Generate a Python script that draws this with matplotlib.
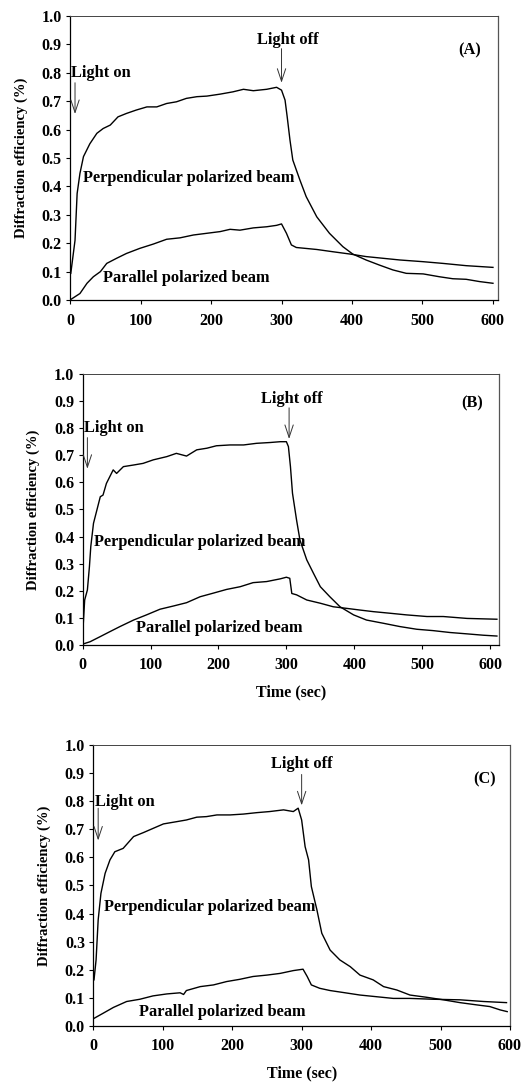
import matplotlib
matplotlib.use('Agg')
import matplotlib.pyplot as plt

plt.rcParams['font.family'] = 'Liberation Serif'
plt.rcParams['font.weight'] = 'bold'

# ---- Panel A ----
a_perp_t = [1, 7, 10, 14, 19, 28, 38, 47, 57, 68, 80, 94, 109, 123, 137, 151, 165, 180, 194,
            213, 231, 246, 260, 279, 293, 300, 305, 308, 312, 316, 326, 335, 350, 368, 387,
            401, 420, 439, 458, 477, 501, 524, 543, 562, 581, 600]
a_perp = [0.094, 0.21, 0.375, 0.446, 0.505, 0.55, 0.587, 0.604, 0.616, 0.645, 0.657, 0.669,
          0.68, 0.68, 0.692, 0.698, 0.71, 0.716, 0.718, 0.725, 0.733, 0.742, 0.737, 0.742,
          0.749, 0.739, 0.704, 0.646, 0.563, 0.493, 0.423, 0.364, 0.293, 0.235, 0.188, 0.162,
          0.141, 0.123, 0.106, 0.094, 0.092, 0.082, 0.075, 0.073, 0.065, 0.059]
a_par_t = [1, 14, 24, 33, 43, 52, 66, 80, 99, 118, 137, 156, 175, 194, 213, 227, 241, 260,
           279, 293, 300, 307, 314, 321, 350, 373, 397, 420, 444, 468, 501, 529, 562, 600]
a_par = [0.002, 0.023, 0.059, 0.082, 0.1, 0.129, 0.147, 0.164, 0.182, 0.197, 0.214, 0.219,
         0.229, 0.235, 0.241, 0.249, 0.246, 0.254, 0.258, 0.263, 0.268, 0.235, 0.194, 0.185,
         0.178, 0.17, 0.162, 0.153, 0.147, 0.141, 0.135, 0.129, 0.121, 0.115]

# ---- Panel B ----
b_perp_t = [1, 3, 7, 10, 12, 16, 21, 26, 30, 35, 45, 50, 60, 75, 89, 104, 124, 138, 153, 168,
            183, 197, 217, 237, 256, 276, 291, 300, 303, 306, 309, 315, 320, 330, 340, 350,
            364, 379, 399, 418, 443, 467, 492, 516, 541, 566, 590, 610]
b_perp = [0.08, 0.166, 0.203, 0.289, 0.363, 0.449, 0.498, 0.547, 0.553, 0.596, 0.646, 0.633,
          0.658, 0.664, 0.67, 0.683, 0.695, 0.707, 0.697, 0.72, 0.726, 0.735, 0.738, 0.738,
          0.744, 0.747, 0.75, 0.75, 0.732, 0.658, 0.56, 0.461, 0.387, 0.314, 0.264, 0.215,
          0.178, 0.141, 0.111, 0.092, 0.08, 0.068, 0.058, 0.053, 0.046, 0.041, 0.036, 0.033]
b_par_t = [1, 11, 26, 40, 55, 75, 94, 114, 134, 153, 173, 192, 212, 232, 251, 271, 291, 300,
           305, 308, 315, 330, 350, 369, 389, 408, 428, 453, 477, 507, 531, 566, 610]
b_par = [0.004, 0.012, 0.031, 0.049, 0.068, 0.092, 0.111, 0.132, 0.144, 0.156, 0.178, 0.191,
         0.205, 0.215, 0.23, 0.234, 0.244, 0.25, 0.246, 0.19, 0.185, 0.166, 0.154, 0.141,
         0.135, 0.129, 0.123, 0.117, 0.111, 0.105, 0.105, 0.098, 0.095]

# ---- Panel C ----
c_perp_t = [1, 4, 7, 11, 17, 24, 31, 43, 58, 72, 86, 101, 120, 134, 149, 163, 178, 197, 216,
            235, 254, 274, 288, 295, 300, 305, 310, 314, 322, 329, 341, 355, 370, 384, 403,
            418, 437, 456, 480, 504, 528, 552, 571, 586, 596]
c_perp = [0.164, 0.235, 0.377, 0.472, 0.543, 0.591, 0.62, 0.632, 0.674, 0.688, 0.703, 0.719,
          0.727, 0.733, 0.743, 0.745, 0.751, 0.751, 0.754, 0.759, 0.763, 0.769, 0.763, 0.775,
          0.733, 0.638, 0.591, 0.496, 0.413, 0.33, 0.27, 0.235, 0.211, 0.181, 0.164, 0.14,
          0.128, 0.11, 0.102, 0.093, 0.083, 0.075, 0.069, 0.057, 0.051]
c_par_t = [1, 14, 29, 48, 67, 86, 106, 125, 130, 134, 154, 173, 192, 211, 230, 250, 269, 288,
           302, 308, 314, 326, 341, 360, 384, 408, 432, 456, 490, 528, 562, 595]
c_par = [0.027, 0.045, 0.066, 0.087, 0.095, 0.107, 0.114, 0.118, 0.112, 0.126, 0.14, 0.146,
         0.158, 0.166, 0.176, 0.181, 0.187, 0.197, 0.202, 0.176, 0.146, 0.134, 0.126, 0.119,
         0.11, 0.104, 0.098, 0.098, 0.095, 0.093, 0.087, 0.083]

panels = [
    dict(rect=[0.134, 0.7227, 0.818, 0.2625], xmax=607, tag='(A)', xlabel=False,
         perp=(a_perp_t, a_perp), par=(a_par_t, a_par),
         on_txt=(2, 0.80), on_arrow=(7, 0.765, 0.655),
         off_txt=(309, 0.915), off_arrow=(300, 0.885, 0.765),
         tag_pos=(567, 0.88), perp_txt=(18, 0.428), par_txt=(47, 0.076)),
    dict(rect=[0.158, 0.4039, 0.796, 0.2505], xmax=613, tag='(B)', xlabel=True,
         perp=(b_perp_t, b_perp), par=(b_par_t, b_par),
         on_txt=(2, 0.80), on_arrow=(7, 0.765, 0.65),
         off_txt=(308, 0.906), off_arrow=(304, 0.875, 0.76),
         tag_pos=(574, 0.892), perp_txt=(16, 0.381), par_txt=(79, 0.061)),
    dict(rect=[0.1784, 0.0518, 0.7967, 0.2597], xmax=600, tag='(C)', xlabel=True,
         perp=(c_perp_t, c_perp), par=(c_par_t, c_par),
         on_txt=(3, 0.798), on_arrow=(7, 0.775, 0.66),
         off_txt=(300, 0.932), off_arrow=(300, 0.895, 0.785),
         tag_pos=(564, 0.878), perp_txt=(15, 0.425), par_txt=(66, 0.051)),
]

fig = plt.figure(figsize=(5.23, 10.82), dpi=100)
arrow_kw = dict(arrowstyle='->,head_length=0.9,head_width=0.3', lw=0.7, color='#333333',
                shrinkA=0, shrinkB=0)

for p in panels:
    ax = fig.add_axes(p['rect'])
    ax.plot(*p['perp'], color='black', lw=1.0)
    ax.plot(*p['par'], color='black', lw=1.0)
    ax.set_xlim(0, p['xmax'])
    ax.set_ylim(0, 1.0)
    ax.set_xticks([0, 100, 200, 300, 400, 500, 600])
    ax.set_yticks([i / 10 for i in range(11)])
    ax.set_yticklabels(['%.1f' % (i / 10) for i in range(11)])
    ax.tick_params(direction='out', length=3, width=0.8, labelsize=11.5, pad=6)
    ax.tick_params(axis='y', pad=3)
    for s in ax.spines.values():
        s.set_linewidth(0.9)
    ax.spines['right'].set_color('#555555')
    ax.spines['top'].set_color('#444444')
    ax.spines['top'].set_linewidth(0.7)
    ax.set_ylabel('Diffraction efficiency (%)', fontsize=10.5, fontweight='bold', labelpad=10)
    if p['xlabel']:
        ax.set_xlabel('Time (sec)', fontsize=11.5, fontweight='bold', labelpad=8)

    fs = 11.8
    ax.text(*p['on_txt'], 'Light on', fontsize=fs, va='center', ha='left')
    x, y0, y1 = p['on_arrow']
    ax.annotate('', xy=(x, y1), xytext=(x, y0), arrowprops=arrow_kw)
    ax.text(*p['off_txt'], 'Light off', fontsize=fs, va='center', ha='center')
    x, y0, y1 = p['off_arrow']
    ax.annotate('', xy=(x, y1), xytext=(x, y0), arrowprops=arrow_kw)
    ax.text(*p['tag_pos'], p['tag'], fontsize=fs, va='center', ha='center')
    ax.text(*p['perp_txt'], 'Perpendicular polarized beam', fontsize=fs, va='center', ha='left')
    ax.text(*p['par_txt'], 'Parallel polarized beam', fontsize=fs, va='center', ha='left')

fig.savefig('out.png', dpi=100)
